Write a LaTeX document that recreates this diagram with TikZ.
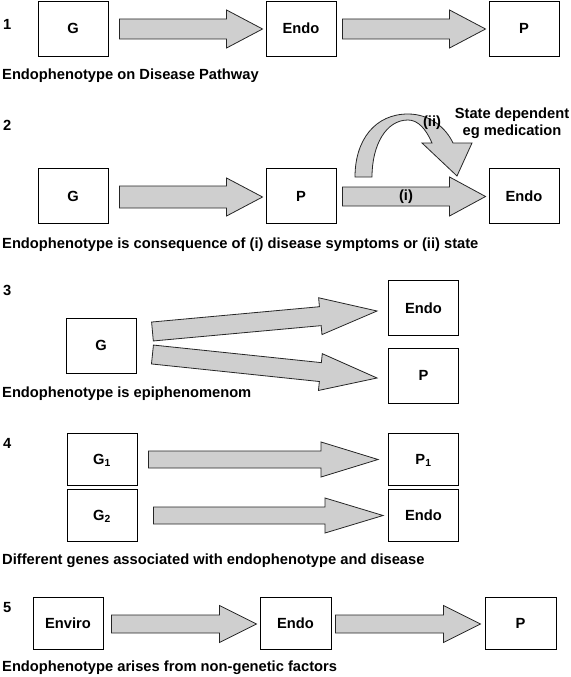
\documentclass[tikz,border=0pt]{standalone}
\usepackage{fontspec}
\setmainfont{Liberation Sans}
\usetikzlibrary{calc}
\tikzset{
  x=1pt, y=-1pt,
  box/.style={draw=black, line width=0.9pt, fill=white, minimum width=70pt, minimum height=55pt,
    inner sep=0pt, text height=10.5pt, text depth=0pt, font=\bfseries\fontsize{14.7}{17}\selectfont},
  bigarrow/.style={draw=black!85, line width=0.8pt, fill=black!19, line join=miter},
  caption/.style={anchor=base west, inner sep=0pt, font=\bfseries\fontsize{14.7}{17}\selectfont},
  lbl/.style={inner sep=0pt, font=\bfseries\fontsize{14.7}{17}\selectfont},
}
% #1 tail centre, #2 tip, #3 body half width, #4 head half width, #5 head length
\newcommand{\blockarrow}[5]{%
  \coordinate (baA) at #1;
  \coordinate (baB) at #2;
  \coordinate (baH) at ($(baB)!#5!(baA)$);
  \draw[bigarrow] ($(baA)!#3!90:(baB)$) -- ($(baH)!#3!90:(baB)$) -- ($(baH)!#4!90:(baB)$)
    -- (baB) -- ($(baH)!#4!-90:(baB)$) -- ($(baH)!#3!-90:(baB)$) -- ($(baA)!#3!-90:(baB)$) -- cycle;
}
\begin{document}
\begin{tikzpicture}
\useasboundingbox (0,0) rectangle (570,677);
% ---------- panel 1
\node[caption] (n1) at (3,30) {1};
\node[box] (g1) at (73,28.5) {G};
\node[box] (e1) at (301,28.5) {Endo};
\node[box] (p1) at (524,28.5) {P};
\blockarrow{($(g1.east)+(11,0.5)$)}{($(e1.west)+(-3,0.5)$)}{10pt}{19pt}{36pt}
\blockarrow{($(e1.east)+(6,0.5)$)}{($(p1.west)+(-3,0.5)$)}{10pt}{19pt}{36pt}
\node[caption] (c1) at (2,80) {Endophenotype on Disease Pathway};
% ---------- panel 2
\node[caption] (n2) at (3,130) {2};
\node[box] (g2) at (73,196) {G};
\node[box] (p2) at (301,196) {P};
\node[box] (e2) at (524,196) {Endo};
\blockarrow{($(g2.east)+(11,1)$)}{($(p2.west)+(-3,1)$)}{11pt}{19pt}{36pt}
\blockarrow{($(p2.east)+(6,0.5)$)}{($(e2.west)+(-3,0.5)$)}{9.5pt}{19.5pt}{36pt}
\node[lbl] (i) at (406,197) {(i)};
\draw[bigarrow] (355,177) .. controls (355,140) and (375,114) .. (408,114)
  .. controls (430,114) and (446,128) .. (453,143) -- (472,143) -- (457,176) -- (422,143) -- (432,143)
  .. controls (426,129) and (418,120) .. (408,120) .. controls (386,120) and (372,145) .. (372,177) -- cycle;
\node[lbl] (ii) at (432,123) {(ii)};
\node[lbl, align=center] (sd) at (512,123) {State dependent\\[0pt]eg medication};
\node[caption] (c2) at (2,248) {Endophenotype is consequence of (i) disease symptoms or (ii) state};
% ---------- panel 3
\node[caption] (n3) at (3,295) {3};
\node[box] (g3) at (101,345.5) {G};
\node[box] (e3) at (423.5,308) {Endo};
\node[box] (p3) at (423.5,375.5) {P};
\blockarrow{($(g3.east)+(16,-14)$)}{($(e3.west)+(-11,3)$)}{9.5pt}{18.5pt}{57pt}
\blockarrow{($(g3.east)+(16,9)$)}{($(p3.west)+(-11,2.5)$)}{9.5pt}{18.5pt}{57pt}
\node[caption] (c3) at (2,397) {Endophenotype is epiphenomenom};
% ---------- panel 4
\node[caption] (n4) at (3,448) {4};
\node[box, minimum width=70pt, minimum height=52pt] (g41) at (102,459) {G\textsubscript{1}};
\node[box, minimum width=70pt, minimum height=52pt] (g42) at (102,515) {G\textsubscript{2}};
\node[box, minimum width=70pt, minimum height=52pt] (p41) at (423.5,459) {P\textsubscript{1}};
\node[box, minimum width=70pt, minimum height=52pt] (e4) at (423.5,515) {Endo};
\blockarrow{($(g41.east)+(11,0.5)$)}{($(p41.west)+(-10,0.5)$)}{8.5pt}{17.5pt}{57pt}
\blockarrow{($(g42.east)+(16,0.5)$)}{($(e4.west)+(-5,0.5)$)}{8.5pt}{17.5pt}{58pt}
\node[caption] (c4) at (2,564) {Different genes associated with endophenotype and disease};
% ---------- panel 5
\node[caption] (n5) at (3,612) {5};
\node[box, minimum width=70pt, minimum height=52pt] (en5) at (68,623) {Enviro};
\node[box, minimum width=71pt, minimum height=52pt] (e5) at (295.5,623) {Endo};
\node[box, minimum width=71pt, minimum height=52pt] (p5) at (520.5,623) {P};
\blockarrow{($(en5.east)+(8,1)$)}{($(e5.west)+(-3,1)$)}{9pt}{18.5pt}{37pt}
\blockarrow{($(e5.east)+(4,1)$)}{($(p5.west)+(-4,1)$)}{9pt}{18.5pt}{37pt}
\node[caption] (c5) at (2,671) {Endophenotype arises from non-genetic factors};
\end{tikzpicture}
\end{document}
